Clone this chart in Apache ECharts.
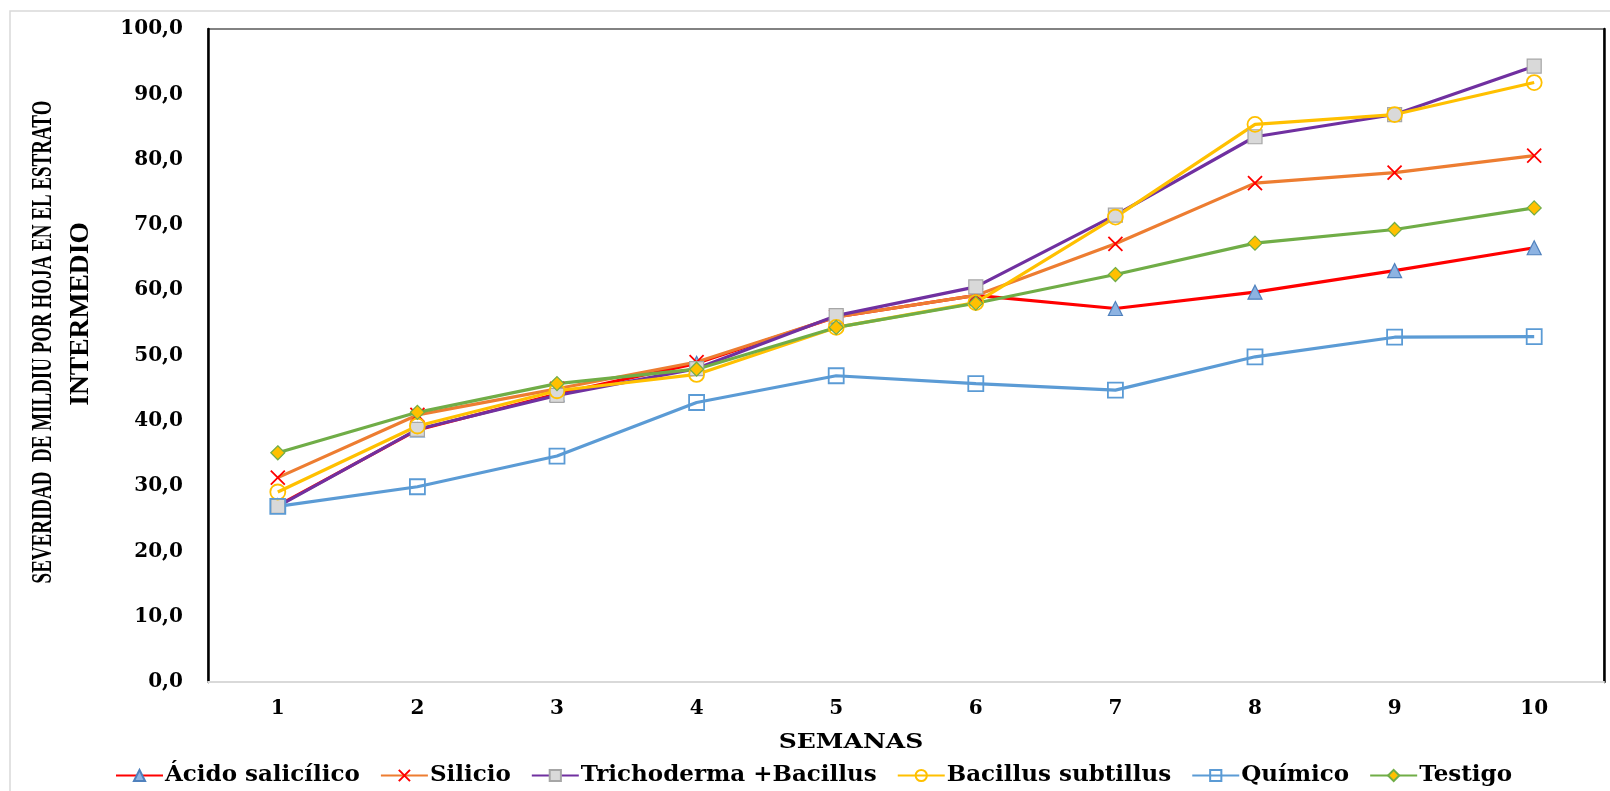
<!DOCTYPE html>
<html>
<head>
<meta charset="utf-8">
<script src="https://cdn.jsdelivr.net/npm/echarts@6/dist/echarts.min.js"></script>
<style>
html,body{margin:0;padding:0;background:#fff;}
#chart{width:1610px;height:791px;}
</style>
</head>
<body>
<div id="chart"></div>
<script>
const semanas = ['1','2','3','4','5','6','7','8','9','10'];
const acidoSalicilico = [27.0, 38.6, 44.1, 48.8, 55.9, 59.2, 57.2, 59.7, 63.0, 66.5];
const silicio = [31.3, 40.9, 44.9, 49.0, 55.9, 59.2, 67.1, 76.4, 78.0, 80.6];
const trichodermaBacillus = [26.9, 38.7, 43.9, 48.0, 56.1, 60.5, 71.5, 83.5, 86.9, 94.3];
const bacillusSubtillus = [29.1, 39.2, 44.6, 47.1, 54.3, 58.1, 71.2, 85.4, 86.9, 91.8];
const quimico = [26.9, 29.9, 34.6, 42.8, 46.9, 45.7, 44.7, 49.8, 52.8, 52.9];
const testigo = [35.1, 41.3, 45.7, 47.9, 54.3, 58.0, 62.4, 67.2, 69.3, 72.6];
const seriesNames = ['Ácido salicílico', 'Silicio', 'Trichoderma +Bacillus', 'Bacillus subtillus', 'Químico', 'Testigo'];
const yTitle1 = 'SEVERIDAD  DE MILDIU POR HOJA EN EL ESTRATO';
const yTitle2 = 'INTERMEDIO';
const xTitle = 'SEMANAS';

const tickFont = {fontFamily: 'DejaVu Serif', fontWeight: 'bold', fontSize: 20, color: '#000'};
const chart = echarts.init(document.getElementById('chart'));
function mk(name, data, lineColor, symbol, size, itemStyle) {
  return {
    name: name, type: 'line', data: data,
    symbol: symbol, symbolSize: size,
    lineStyle: {color: lineColor, width: 3.2},
    itemStyle: itemStyle,
    emphasis: {disabled: true},
    animation: false
  };
}
chart.setOption({
  backgroundColor: '#fff',
  animation: false,
  grid: {left: 208, top: 29, right: 6, bottom: 109, show: true, borderColor: '#595959', borderWidth: 1.5, containLabel: false},
  graphic: [
    {type: 'rect', shape: {x: 10, y: 11, width: 1700, height: 900}, style: {fill: 'none', stroke: '#d9d9d9', lineWidth: 1.5}, z: -10},
    {type: 'text', x: 44, y: 342, rotation: Math.PI / 2, scaleY: 1.5, style: {text: yTitle1, fontFamily: 'Liberation Serif', fontWeight: 'bold', fontSize: 19, fill: '#000', align: 'center', verticalAlign: 'middle'}},
    {type: 'text', x: 81, y: 314, rotation: Math.PI / 2, scaleX: 1.45, scaleY: 1.4, style: {text: yTitle2, fontFamily: 'Liberation Serif', fontWeight: 'bold', fontSize: 19, fill: '#000', align: 'center', verticalAlign: 'middle'}},
    {type: 'text', x: 851, y: 743, scaleX: 1.25, style: {text: xTitle, fontFamily: 'DejaVu Serif', fontWeight: 'bold', fontSize: 20, fill: '#000', align: 'center', verticalAlign: 'middle'}}
  ],
  legend: {
    left: 110, top: 759, itemWidth: 47, itemHeight: 14, itemGap: 20,
    textStyle: {fontFamily: 'DejaVu Serif', fontWeight: 'bold', fontSize: 23, color: '#000', padding: [0, 0, 0, -3]},
    data: seriesNames
  },
  xAxis: {
    type: 'category', data: semanas, boundaryGap: true,
    axisLine: {show: true, lineStyle: {color: '#d9d9d9', width: 2}},
    axisTick: {show: false},
    axisLabel: Object.assign({margin: 17}, tickFont),
    splitLine: {show: false}
  },
  yAxis: [{
    type: 'value', min: 0, max: 100, interval: 10,
    axisLine: {show: true, lineStyle: {color: '#000', width: 2.5}},
    axisTick: {show: false},
    splitLine: {show: false},
    axisLabel: Object.assign({margin: 25, formatter: v => v.toFixed(1).replace('.', ',')}, tickFont)
  }, {
    type: 'value', min: 0, max: 100, interval: 10, position: 'right',
    axisLine: {show: true, lineStyle: {color: '#000', width: 2.5}},
    axisTick: {show: false}, axisLabel: {show: false}, splitLine: {show: false}
  }],
  series: [
    mk(seriesNames[0], acidoSalicilico, '#ff0000', 'triangle', 14, {color: '#8db3e2', borderColor: '#4f81bd', borderWidth: 1.2}),
    mk(seriesNames[1], silicio, '#ed7d31', 'path://M0,0L10,10M10,0L0,10', 14, {color: 'none', borderColor: '#ff0000', borderWidth: 1.8}),
    mk(seriesNames[2], trichodermaBacillus, '#7030a0', 'rect', 14, {color: '#d9d9d9', borderColor: '#a6a6a6', borderWidth: 1.2}),
    mk(seriesNames[3], bacillusSubtillus, '#ffc000', 'circle', 15, {color: 'rgba(255,255,255,0)', borderColor: '#ffc000', borderWidth: 1.8}),
    mk(seriesNames[4], quimico, '#5b9bd5', 'rect', 15, {color: 'rgba(255,255,255,0)', borderColor: '#5b9bd5', borderWidth: 1.8}),
    mk(seriesNames[5], testigo, '#70ad47', 'diamond', 14, {color: '#ffc000', borderColor: '#70ad47', borderWidth: 1.2})
  ]
});
</script>
</body>
</html>
